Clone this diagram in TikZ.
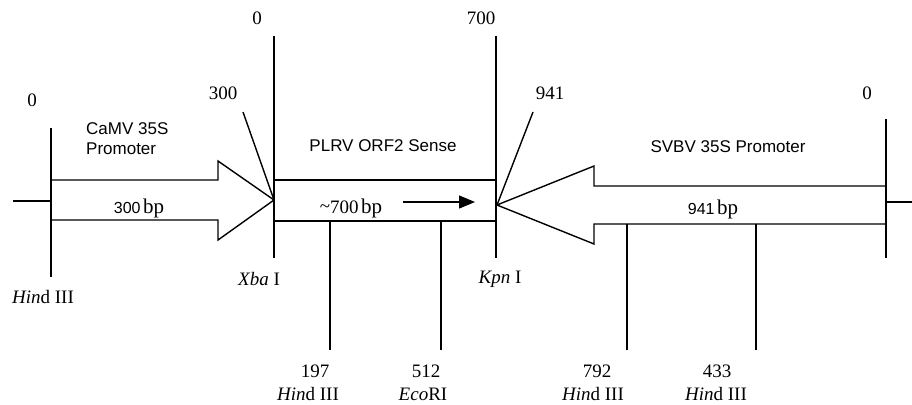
\documentclass[tikz,border=0pt]{standalone}
\usepackage{fontspec}
\setmainfont{Liberation Serif}
\newfontfamily\arialf{Liberation Sans}
\usetikzlibrary{arrows.meta}
\tikzset{
  ln/.style={line width=1.4pt, line join=miter},
  lab/.style={inner sep=0pt, font=\fontsize{19}{21}\selectfont},
  sanslab/.style={inner sep=0pt, font=\arialf\fontsize{17}{20}\selectfont},
  bplab/.style={inner sep=0pt},
}
\newcommand{\bpt}[1]{{\arialf\fontsize{16}{18}\selectfont #1} {\fontsize{21}{23}\selectfont bp}}
\begin{document}
\begin{tikzpicture}[x=1pt,y=-1pt]
\useasboundingbox (0,0) rectangle (912,404);
% key points
\coordinate (lstem) at (13,201);
\coordinate (lbar) at (51,201);
\coordinate (ltop) at (51,128);
\coordinate (lbot) at (51,277);
\coordinate (xtop) at (274,36);
\coordinate (xbot) at (274,258);
\coordinate (ktop) at (496,36);
\coordinate (kbot) at (496,258);
\coordinate (rtop) at (886,119);
\coordinate (rbot) at (886,258);
\coordinate (rbar) at (886,202);
\coordinate (rstem) at (912,202);
\coordinate (ltip) at (274,200);
\coordinate (rtip) at (497,205);
% left arrow (CaMV)
\draw[ln] (lstem) -- (lbar);
\draw[ln] (ltop) -- (lbot);
\draw[ln] (51,180) -- (218,180) -- (218,161) -- (ltip) -- (218,240) -- (218,220) -- (51,220);
% middle box
\draw[ln] (xtop) -- (xbot);
\draw[ln] (ktop) -- (kbot);
\draw[ln] (274,180) -- (496,180);
\draw[ln] (274,221) -- (496,221);
\coordinate (mas) at (403,202);
\coordinate (mae) at (475,202);
\draw[line width=1.4pt, -{Triangle[length=16pt,width=13pt]}] (mas) -- (mae);
% right arrow (SVBV)
\draw[ln] (rtop) -- (rbot);
\draw[ln] (rbar) -- (rstem);
\draw[ln] (886,186) -- (594,186) -- (594,166) -- (rtip) -- (594,244) -- (594,224) -- (886,224);
% leader lines from position labels
\coordinate (l300) at (243,112);
\coordinate (l941) at (533,112);
\draw[ln] (l300) -- (ltip);
\draw[ln] (l941) -- (rtip);
% restriction site drop lines
\coordinate (h197t) at (330,221); \coordinate (h197b) at (330,350);
\coordinate (e512t) at (441,221); \coordinate (e512b) at (441,350);
\coordinate (h792t) at (627,224); \coordinate (h792b) at (627,350);
\coordinate (h433t) at (756,224); \coordinate (h433b) at (756,350);
\draw[ln] (h197t) -- (h197b);
\draw[ln] (e512t) -- (e512b);
\draw[ln] (h792t) -- (h792b);
\draw[ln] (h433t) -- (h433b);
% position labels
\node[lab] (p0a) at (32,100) {0};
\node[lab] (p300) at (223,93) {300};
\node[lab] (p0b) at (257,18) {0};
\node[lab] (p700) at (481,18) {700};
\node[lab] (p941) at (550,93) {941};
\node[lab] (p0c) at (867,93) {0};
% element names
\node[sanslab, anchor=west, align=left] (camv) at (86,139) {CaMV 35S\\Promoter};
\node[sanslab] (plrv) at (383,146) {PLRV ORF2 Sense};
\node[sanslab] (svbv) at (728,147) {SVBV 35S Promoter};
% sizes
\node[bplab] (s300) at (139,208) {\bpt{300}};
\node[bplab] (s700) at (351,208) {{\fontsize{19}{21}\selectfont\raisebox{0.1ex}{\textasciitilde}700} {\fontsize{21}{23}\selectfont bp}};
\node[bplab] (s941) at (713,209) {\bpt{941}};
% enzymes
\node[lab] (hA) at (43,297) {\textit{Hin}d III};
\node[lab] (xba) at (259,279) {\textit{Xba} I};
\node[lab] (kpn) at (500,279) {\textit{Kpn} I};
\node[lab] (n197) at (315,371) {197};
\node[lab] (hB) at (308,394) {\textit{Hin}d III};
\node[lab] (n512) at (426,371) {512};
\node[lab] (eco) at (423,394) {\textit{Eco}RI};
\node[lab] (n792) at (597,371) {792};
\node[lab] (hC) at (593,394) {\textit{Hin}d III};
\node[lab] (n433) at (717,371) {433};
\node[lab] (hD) at (716,394) {\textit{Hin}d III};
\end{tikzpicture}
\end{document}
